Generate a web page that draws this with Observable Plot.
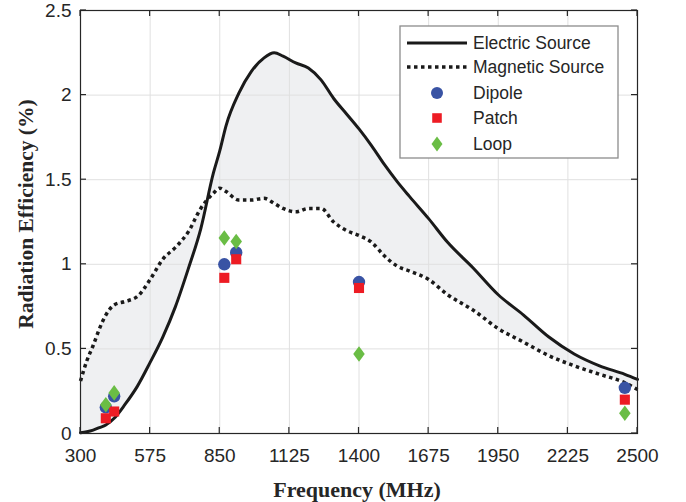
<!DOCTYPE html>
<html><head><meta charset="utf-8">
<script src="https://cdn.jsdelivr.net/npm/d3@7"></script>
<script src="https://cdn.jsdelivr.net/npm/@observablehq/plot@0.6"></script>
<style>body{margin:0;background:#fff} svg{display:block}</style>
</head><body><div id="chart"></div>
<script>
const freq     = [300, 325, 350, 375, 400, 433, 475, 525, 575, 625, 675, 725, 775, 825, 850, 875, 925, 975, 1025, 1065, 1100, 1150, 1200, 1250, 1300, 1350, 1400, 1450, 1500, 1550, 1600, 1675, 1750, 1850, 1950, 2050, 2150, 2250, 2350, 2450, 2500];
const electric = [0.004, 0.01, 0.02, 0.035, 0.05, 0.09, 0.17, 0.28, 0.42, 0.57, 0.75, 0.97, 1.21, 1.54, 1.67, 1.82, 2.01, 2.14, 2.22, 2.25, 2.23, 2.19, 2.16, 2.09, 1.98, 1.89, 1.80, 1.70, 1.59, 1.49, 1.40, 1.27, 1.13, 0.98, 0.82, 0.70, 0.57, 0.47, 0.40, 0.35, 0.32];
const magnetic = [0.31, 0.43, 0.52, 0.62, 0.70, 0.76, 0.78, 0.81, 0.91, 1.03, 1.10, 1.19, 1.33, 1.42, 1.45, 1.43, 1.38, 1.38, 1.39, 1.36, 1.33, 1.31, 1.33, 1.33, 1.25, 1.20, 1.17, 1.13, 1.05, 0.99, 0.96, 0.91, 0.82, 0.73, 0.62, 0.54, 0.46, 0.40, 0.35, 0.30, 0.26];
const deviceFreq = [400, 433, 868, 915, 1400, 2450];
const dipole = [0.155, 0.22, 1.00, 1.07, 0.895, 0.27];
const patch  = [0.09, 0.13, 0.92, 1.03, 0.86, 0.20];
const loop   = [0.17, 0.24, 1.155, 1.135, 0.47, 0.12];
const xTicks = [300, 575, 850, 1125, 1400, 1675, 1950, 2225, 2500];
const yTicks = [0, 0.5, 1, 1.5, 2, 2.5];
const seriesNames = ["Electric Source", "Magnetic Source", "Dipole", "Patch", "Loop"];
const xLabel = "Frequency (MHz)";
const yLabel = "Radiation Efficiency (%)";

const colors = {dipole: "#3953a4", patch: "#ed1c24", loop: "#6abd45", line: "#1a1a1a"};
const curves = freq.map((f, i) => ({f, e: electric[i], m: magnetic[i]}));
const pts = vals => deviceFreq.map((f, i) => ({f, v: vals[i]}));

// MATLAB-style diamond (wider than d3's)
const wideDiamond = {
  draw(ctx, size) {
    const r = Math.sqrt(size / Math.PI), w = r * 0.74;
    ctx.moveTo(0, -r); ctx.lineTo(w, 0); ctx.lineTo(0, r); ctx.lineTo(-w, 0); ctx.closePath();
  }
};

const chart = Plot.plot({
  width: 686, height: 502,
  marginLeft: 80, marginRight: 49, marginTop: 10, marginBottom: 69,
  style: {fontFamily: "'Liberation Sans', Arial, sans-serif", fontSize: "19px", color: "#262626", background: "#fff"},
  x: {domain: [300, 2500]},
  y: {domain: [0, 2.5]},
  marks: [
    Plot.areaY(curves, {x: "f", y1: "e", y2: "m", fill: "#eff0f2", curve: "monotone-x"}),
    Plot.gridX(xTicks, {stroke: "#e0e0e0", strokeOpacity: 1, strokeWidth: 1}),
    Plot.gridY(yTicks, {stroke: "#e0e0e0", strokeOpacity: 1, strokeWidth: 1}),
    Plot.axisX(xTicks, {tickSize: 0, tickPadding: 15, label: null, tickFormat: d => String(d), fill: "#262626"}),
    Plot.axisY(yTicks, {tickSize: 0, tickPadding: 9, label: null, tickFormat: d => String(d), fill: "#262626"}),
    Plot.line(curves, {x: "f", y: "m", stroke: colors.line, strokeWidth: 3.5, strokeDasharray: "3.5,3.5", strokeLinecap: "butt", strokeLinejoin: "miter", curve: "monotone-x"}),
    Plot.line(curves, {x: "f", y: "e", stroke: colors.line, strokeWidth: 3, curve: "monotone-x"}),
    Plot.dot(pts(dipole), {x: "f", y: "v", r: 6.2, fill: colors.dipole, symbol: "circle"}),
    Plot.dot(pts(patch), {x: "f", y: "v", r: 5.7, fill: colors.patch, symbol: "square"}),
    Plot.dot(pts(loop), {x: "f", y: "v", r: 7.8, fill: colors.loop, symbol: wideDiamond}),
    Plot.frame({stroke: "#262626", strokeWidth: 1.2})
  ]
});

const svg = d3.select(chart);
const sx = chart.scale("x"), sy = chart.scale("y");
const [x0, x1] = sx.range, [y0, y1] = sy.range; // y0 bottom, y1 top
const tk = svg.append("g").attr("stroke", "#262626").attr("stroke-width", 1.2);
xTicks.forEach(t => {
  const X = sx.apply(t);
  tk.append("line").attr("x1", X).attr("x2", X).attr("y1", y0).attr("y2", y0 - 6);
  tk.append("line").attr("x1", X).attr("x2", X).attr("y1", y1).attr("y2", y1 + 6);
});
yTicks.forEach(t => {
  const Y = sy.apply(t);
  tk.append("line").attr("x1", x0).attr("x2", x0 + 6).attr("y1", Y).attr("y2", Y);
  tk.append("line").attr("x1", x1).attr("x2", x1 - 6).attr("y1", Y).attr("y2", Y);
});

// axis titles
svg.append("text").text(xLabel)
  .attr("x", 357).attr("y", 497).attr("text-anchor", "middle")
  .attr("font-family", "'Liberation Serif', 'Times New Roman', serif").attr("font-weight", "bold").attr("font-size", 22).attr("fill", "#262626");
svg.append("text").text(yLabel)
  .attr("transform", `translate(33,214) rotate(-90)`).attr("text-anchor", "middle")
  .attr("font-family", "'Liberation Serif', 'Times New Roman', serif").attr("font-weight", "bold").attr("font-size", 21.5).attr("fill", "#262626");

// legend
const lg = svg.append("g").attr("font-family", "'Liberation Sans', Arial, sans-serif").attr("font-size", 17.5).attr("fill", "#262626").attr("text-anchor", "start");
lg.append("rect").attr("x", 400).attr("y", 26).attr("width", 218).attr("height", 132).attr("fill", "#fff").attr("stroke", "#8c8c8c").attr("stroke-width", 1.3);
const rows = [43, 67, 93, 118, 144];
lg.append("line").attr("x1", 407).attr("x2", 467).attr("y1", rows[0]).attr("y2", rows[0]).attr("stroke", colors.line).attr("stroke-width", 3);
lg.append("line").attr("x1", 407).attr("x2", 467).attr("y1", rows[1]).attr("y2", rows[1]).attr("stroke", colors.line).attr("stroke-width", 3.5).attr("stroke-dasharray", "3.5,3.5");
lg.append("circle").attr("cx", 437).attr("cy", rows[2]).attr("r", 6).attr("fill", colors.dipole);
lg.append("path").attr("d", d3.symbol(d3.symbolSquare, 5.4 * 5.4 * Math.PI)()).attr("transform", `translate(437,${rows[3]})`).attr("fill", colors.patch);
lg.append("path").attr("d", d3.symbol(wideDiamond, 7.4 * 7.4 * Math.PI)()).attr("transform", `translate(437,${rows[4]})`).attr("fill", colors.loop);
seriesNames.forEach((n, i) => {
  lg.append("text").text(n).attr("x", 473).attr("y", rows[i]).attr("dominant-baseline", "central");
});

document.getElementById("chart").appendChild(chart);
</script>
</body></html>
